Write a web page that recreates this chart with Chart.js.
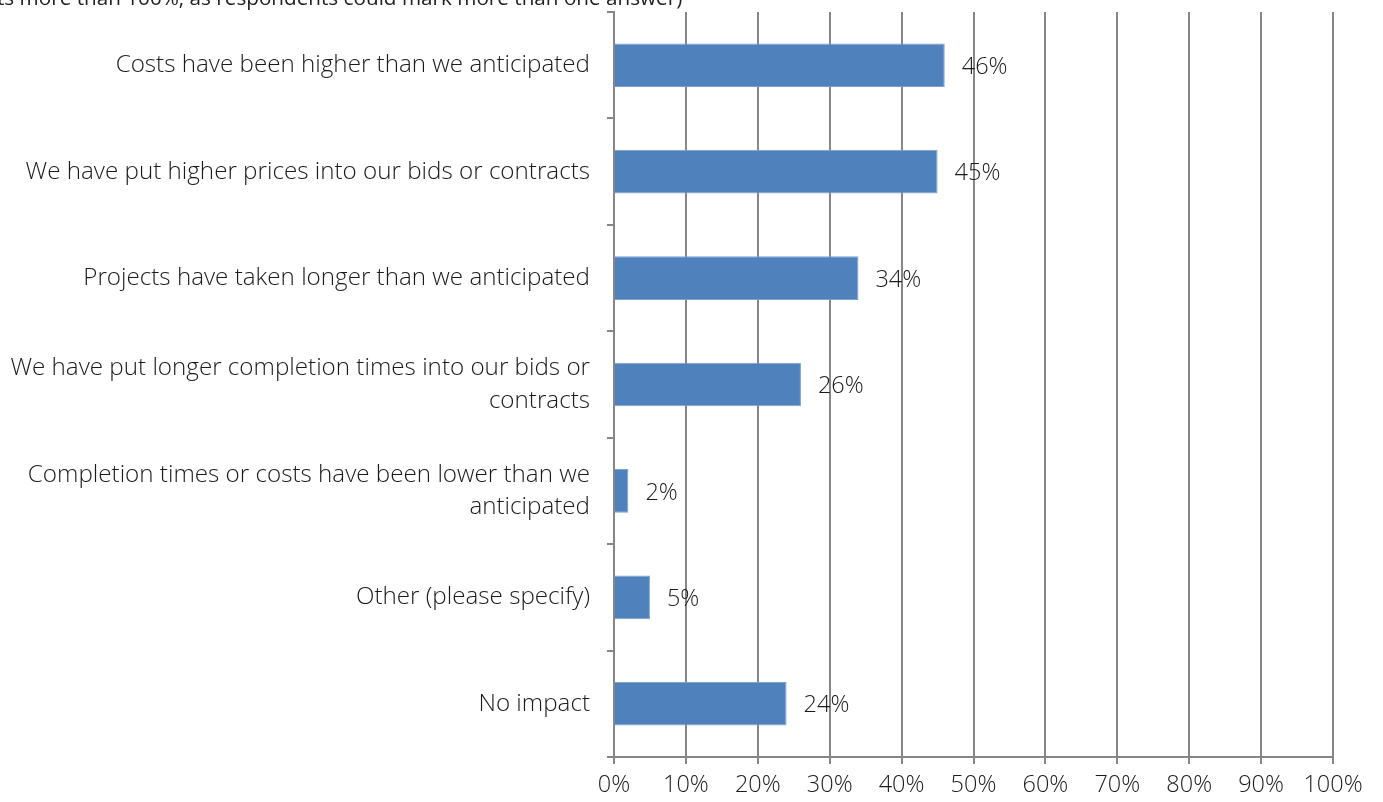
<!DOCTYPE html>
<html lang="en">
<head>
  <meta charset="UTF-8">
  <title>Impact</title>
  <script src="https://cdn.jsdelivr.net/npm/chart.js"></script>
  <style>
    body { margin: 0; background: #fff; overflow: hidden; }
    .wrap { position: relative; width: 1383px; height: 802px; }
    .nota {
      position: absolute; left: -3px; top: -17px; white-space: nowrap;
      font-family: "Open Sans", sans-serif; font-size: 20.7px; color: #222;
    }
  </style>
</head>
<body>
  <div class="wrap">
    <div class="nota">ts more than 100%, as respondents could mark more than one answer)</div>
    <canvas id="grafico" width="1383" height="802"></canvas>
  </div>

  <script>
    const categorias = [
      'Costs have been higher than we anticipated',
      'We have put higher prices into our bids or contracts',
      'Projects have taken longer than we anticipated',
      ['We have put longer completion times into our bids or', 'contracts'],
      ['Completion times or costs have been lower than we', 'anticipated'],
      'Other (please specify)',
      'No impact'
    ];
    const valores = [46, 45, 34, 26, 2, 5, 24];
    const ticksX = [0, 10, 20, 30, 40, 50, 60, 70, 80, 90, 100];

    const fonte = { family: '"Open Sans", sans-serif', size: 24.2, weight: '300', lineHeight: 1.34 };
    const cinza = '#868686';

    const rotulos = {
      id: 'rotulos',
      afterDatasetsDraw(chart) {
        const ctx = chart.ctx;
        const meta = chart.getDatasetMeta(0);
        ctx.save();
        ctx.font = '300 23.5px "Open Sans", sans-serif';
        ctx.fillStyle = '#1a1a1a';
        ctx.textBaseline = 'middle';
        meta.data.forEach((bar, i) => {
          ctx.fillText(valores[i] + '%', bar.x + 17, bar.y + 2);
        });
        ctx.restore();
      }
    };

    new Chart(document.getElementById('grafico'), {
      type: 'bar',
      data: {
        labels: categorias,
        datasets: [{
          data: valores,
          backgroundColor: '#4F81BD',
          borderColor: '#7BA0CD',
          borderWidth: 1,
          categoryPercentage: 1,
          barPercentage: 0.41
        }]
      },
      plugins: [rotulos],
      options: {
        indexAxis: 'y',
        responsive: false,
        animation: false,
        layout: { padding: { top: 12, right: 50, left: 0, bottom: 0 } },
        plugins: { legend: { display: false }, tooltip: { enabled: false } },
        scales: {
          x: {
            min: 0, max: 100,
            afterBuildTicks: ax => { ax.ticks = ticksX.map(v => ({ value: v })); },
            afterFit: ax => { ax.height = 45; ax.paddingLeft = 0; ax.paddingRight = 0; },
            grid: { color: cinza, lineWidth: 2, tickLength: 7 },
            border: { color: cinza, width: 2 },
            ticks: { font: { ...fonte, size: 23.5 }, color: '#1a1a1a', padding: 6, callback: v => v + '%' }
          },
          y: {
            afterFit: ax => { ax.width = 614; ax.paddingTop = 0; ax.paddingBottom = 0; },
            grid: { drawOnChartArea: false, color: cinza, lineWidth: 2, tickLength: 7 },
            border: { color: cinza, width: 2 },
            ticks: { font: fonte, color: '#1a1a1a', padding: 17 }
          }
        }
      }
    });
  </script>
</body>
</html>
